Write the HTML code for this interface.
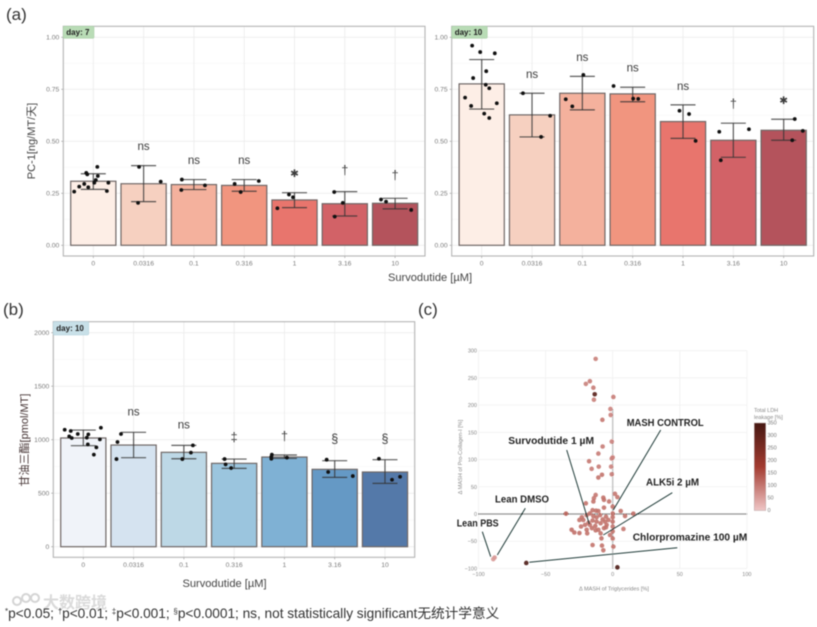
<!DOCTYPE html>
<html lang="en">
<head>
<meta charset="utf-8">
<title>Survodutide figure</title>
<style>
html,body{margin:0;padding:0;background:#fff;}
#wrap{position:relative;width:817px;height:627px;overflow:hidden;filter:blur(0.5px);}
svg{position:absolute;left:0;top:0;}
text{font-family:"Liberation Sans","Noto Sans CJK SC",sans-serif;}
#footnote{position:absolute;left:5px;top:605px;font:13.7px/18px "Liberation Sans","Noto Sans CJK SC",sans-serif;color:#333;white-space:nowrap;letter-spacing:-0.03px;}
#footnote span{font-size:8px;vertical-align:4px;line-height:0;}
#watermark{position:absolute;left:43px;top:592px;font:bold 16px/18px "Noto Sans CJK SC",sans-serif;color:#dadada;white-space:nowrap;}
</style>
</head>
<body>
<div id="wrap">
<svg id="fig" width="817" height="627" viewBox="0 0 817 627" xmlns="http://www.w3.org/2000/svg">
  <text x="6" y="20" font-size="17" fill="#333">(a)</text>
  <text x="3" y="315" font-size="17" fill="#333">(b)</text>
  <text x="418" y="315" font-size="17" fill="#333">(c)</text>
  <g id="panelA7"></g>
  <g id="panelA10"></g>
  <g id="panelB"></g>
  <g id="panelC"></g>
  <g>
    <text x="614" y="590.5" font-size="5.6" fill="#888" text-anchor="middle">Δ MASH of Triglycerides [%]</text>
    <text x="462" y="457" font-size="5.6" fill="#888" text-anchor="middle" transform="rotate(-90 462 457)">Δ MASH of Pro-Collagen-I [%]</text>
    <text x="754" y="412" font-size="5.5" fill="#888">Total LDH</text>
    <text x="754" y="419" font-size="5.5" fill="#888">leakage [%]</text>
    <line x1="566.7" y1="450" x2="589.3" y2="524" stroke="#1f3b38" stroke-width="1"/>
    <line x1="660.7" y1="430" x2="613.3" y2="510" stroke="#1f3b38" stroke-width="1"/>
    <line x1="672.3" y1="492.7" x2="603.3" y2="535" stroke="#1f3b38" stroke-width="1"/>
    <line x1="525.3" y1="508.3" x2="497.3" y2="555" stroke="#1f3b38" stroke-width="1"/>
    <line x1="482.3" y1="531.7" x2="490.7" y2="556.7" stroke="#1f3b38" stroke-width="1"/>
    <line x1="677.3" y1="547.7" x2="529.3" y2="562.3" stroke="#1f3b38" stroke-width="1"/>
    <text x="626.7" y="426" font-size="10.5" font-weight="bold" fill="#222" textLength="77" lengthAdjust="spacingAndGlyphs">MASH CONTROL</text>
    <text x="508.3" y="444" font-size="10.5" font-weight="bold" fill="#222" textLength="85.7" lengthAdjust="spacingAndGlyphs">Survodutide 1 µM</text>
    <text x="646" y="485.7" font-size="10.5" font-weight="bold" fill="#222" textLength="53" lengthAdjust="spacingAndGlyphs">ALK5i 2 µM</text>
    <text x="495" y="502.7" font-size="10.5" font-weight="bold" fill="#222" textLength="54" lengthAdjust="spacingAndGlyphs">Lean DMSO</text>
    <text x="456.7" y="526.7" font-size="10.5" font-weight="bold" fill="#222" textLength="42" lengthAdjust="spacingAndGlyphs">Lean PBS</text>
    <text x="632.7" y="540.7" font-size="10.5" font-weight="bold" fill="#222" textLength="114.6" lengthAdjust="spacingAndGlyphs">Chlorpromazine 100 µM</text>
  </g>
  <text x="31" y="141" font-size="11" fill="#444" text-anchor="middle" transform="rotate(-90 31 141)" dy="4">PC-1[ng/MT/天]</text>
  <text x="430" y="281" font-size="11.1" fill="#444" text-anchor="middle">Survodutide [µM]</text>
  <text x="24" y="440" font-size="11" fill="#433" text-anchor="middle" transform="rotate(-90 24 440)" dy="4">甘油三酯[pmol/MT]</text>
  <text x="224.5" y="587" font-size="11.1" fill="#444" text-anchor="middle">Survodutide [µM]</text>
  <g fill="none" stroke="#d4d4d4" stroke-width="2">
    <circle cx="17" cy="601" r="4"/>
    <circle cx="26" cy="598" r="4"/>
    <circle cx="35" cy="598" r="4"/>
  </g>
</svg>
<div id="watermark">大数跨境</div>
<div id="footnote"><span>*</span>p&lt;0.05; <span>†</span>p&lt;0.01; <span>‡</span>p&lt;0.001; <span>§</span>p&lt;0.0001; ns, not statistically significant无统计学意义</div>
</div>
<script>
// ---------- shared categories ----------
const doses = ['0','0.0316','0.1','0.316','1','3.16','10'];

// ---------- day 7 (a, left) ----------
const day7Means = [0.308,0.296,0.292,0.288,0.218,0.200,0.202];
const day7ErrHigh = [0.344,0.383,0.316,0.316,0.253,0.258,0.226];
const day7ErrLow = [0.269,0.210,0.268,0.260,0.181,0.141,0.175];
const day7Jitter = [
  [0.08,-0.14,-0.12,0.09,0.05,0.02,-0.18,-0.28,-0.10,0.30,0.27,-0.38],
  [-0.09,0.34,-0.11],[-0.24,0.22,-0.25],[-0.19,0.29,-0.07],
  [-0.11,-0.03,-0.34],[-0.21,-0.04,-0.20],[-0.28,-0.18,0.32]];
const day7Points = [
  [0.377,0.348,0.341,0.333,0.314,0.301,0.295,0.282,0.279,0.301,0.261,0.258],
  [0.377,0.306,0.204],[0.316,0.288,0.266],[0.295,0.309,0.256],
  [0.244,0.231,0.178],[0.256,0.204,0.138],[0.220,0.210,0.170]];
const day7Sig = ['','ns','ns','ns','✱','†','†'];
const day7SigAt = [0,0.478,0.410,0.410,0.346,0.360,0.335];

// ---------- day 10 (a, right) ----------
const day10Means = [0.776,0.627,0.731,0.728,0.595,0.505,0.553];
const day10ErrHigh = [0.893,0.731,0.812,0.760,0.675,0.587,0.606];
const day10ErrLow = [0.655,0.521,0.651,0.690,0.514,0.423,0.505];
const day10Jitter = [
  [-0.19,-0.03,0.26,0.09,-0.17,0.08,0.15,-0.33,-0.21,0.30,0.05,0.15],
  [-0.18,0.36,0.18],[0.02,-0.33,-0.20],[-0.38,0.01,0.11],
  [-0.07,0.12,0.25],[-0.28,0.31,-0.25],[0.22,0.38,0.17]];
const day10Points = [
  [0.960,0.929,0.923,0.837,0.804,0.772,0.755,0.710,0.670,0.683,0.633,0.612],
  [0.731,0.623,0.521],[0.819,0.702,0.668],[0.766,0.705,0.704],
  [0.647,0.631,0.502],[0.546,0.558,0.409],[0.607,0.550,0.505]];
const day10Sig = ['','ns','ns','ns','ns','†','✱'];
const day10SigAt = [0,0.824,0.905,0.854,0.766,0.680,0.697];

// ---------- triglycerides (b) ----------
const trigMeans = [1016,950,882,779,838,723,698];
const trigErrHigh = [1090,1069,947,819,857,804,813];
const trigErrLow = [944,832,822,732,825,648,592];
const trigJitter = [
  [-0.37,-0.25,-0.11,0.10,0.35,-0.28,-0.23,0.07,0.33,0.09,0.26,0.21],
  [-0.25,-0.32,-0.34],[0.18,0.14,-0.03],[-0.19,-0.17,-0.06],
  [-0.25,-0.26,-0.26,0.05],[-0.16,-0.13,0.36],[-0.12,0.14,0.30]];
const trigPoints = [
  [1093,1081,1053,1050,1112,1031,1016,1019,1003,956,928,860],
  [1053,978,819],[947,879,819],[819,769,735],
  [860,841,822,832],[813,698,660],[822,626,654]];
const trigSig = ['','ns','ns','‡','†','§','§'];
const trigSigAt = [0,1262,1143,1022,1031,1006,1006];

// ---------- tick labels ----------
const fractionTicks = [0,0.25,0.5,0.75,1];
const fractionLabels = ['0.00','0.25','0.50','0.75','1.00'];
const trigTicks = [0,500,1000,1500,2000];
const trigLabels = ['0','500','1000','1500','2000'];

// ---------- scatter (c) ----------
const scatterX = [-12.7,-17,-20,-14.4,-13.4,-14,0.5,-1.7,-1.5,-7.7,-0.7,-7.5,-10.7,0,-0.7,-17.6,-10.4,-1.2,-15.7,-0.7,-8,-10.7,
 -12.7,-14,-7,-6.5,-14.4,-20,-2.7,1.7,3.5,0,-6.5,6,-15,-12.4,-10.7,-34.8,9.2,15.4,
 -23,-24.8,-21.9,-19.4,-17,-14.4,-12,-9.4,-7.5,-5,-3.2,0,0,0,0,-18,-15,-12,-9,-5.7,-4.5,-20.6,-23.6,-19.4,-19,-15.5,-13,-10.7,-9,-6.5,-30.6,-28.6,-24.8,8,-5,-2,-8.4,0.5,-15,-8,-7,-17,-12.7,0,0,
 -88,-89,-64.4,3.5];
const scatterY = [285,244,239,232,220,210,215,193,182,173,133,124,111,104,102,97,87,87,83,73,72,67,
 35,29,30,26,23,19.6,23,37,31,13.5,11.6,5.5,7,6,5.5,0.6,-3.7,0.6,
 -6,-11,-11,-2,1,-4,-6,-2,-10,-5,-11,1,-6,-14,-23,-16,-12,-14,-17,-14,-20,-20,-23,-29,-35.5,-26,-22,-29,-35.5,-26,-29,-34,-35,-27.5,-24.5,-38.6,-44.7,-60,-57,-58,-66.7,-20,-30,-32,-45,
 -80,-83,-90,-98];
const scatterLdh = [90,95,90,95,320,90,95,85,85,100,85,95,95,85,85,100,95,85,95,95,105,105,
 100,100,105,105,105,105,105,100,100,105,105,105,105,105,105,130,105,110,
 105,105,105,105,105,105,105,105,105,105,105,105,105,105,100,105,105,105,105,105,105,105,105,105,105,105,105,105,105,105,110,110,110,100,105,100,110,105,105,105,105,105,105,105,105,
 60,55,340,340];
const xTicksC = [-100,-50,0,50,100];
const xTickLabelsC = ['−100','−50','0','50','100'];
const yTicksC = [-100,-50,0,50,100,150,200,250,300];
const yTickLabelsC = ['−100','−50','0','50','100','150','200','250','300'];
const ldhTicks = [0,50,100,150,200,250,300,350];
const ldhTickLabels = ['0','50','100','150','200','250','300','350'];

// ---------- styling ----------
const redFills = ['#fdeee6','#f6d0c0','#f4b19d','#f1957f','#e8756d','#d26267','#b4535c'];
const blueFills = ['#f0f3f9','#d5e3f0','#bdd8e6','#9bc5de','#7fb1d4','#6599c5','#5479a9'];
const NS = 'http://www.w3.org/2000/svg';

function make(tag, attrs, parent) {
  const el = document.createElementNS(NS, tag);
  for (const k in attrs) el.setAttribute(k, attrs[k]);
  parent.appendChild(el);
  return el;
}

function drawBarPanel(cfg) {
  const root = document.getElementById(cfg.id);
  const yPx = v => cfg.y0 + (cfg.yTop - cfg.y0) * v / cfg.yMax;
  const xPx = c => cfg.x0 + cfg.step * c;

  // background grid
  const minorCount = cfg.ticks.length - 1;
  for (let i = 0; i < minorCount; i++) {
    const mid = (cfg.ticks[i] + cfg.ticks[i + 1]) / 2;
    const minor = make('line', {x1: cfg.left, x2: cfg.right, y1: yPx(mid), y2: yPx(mid), stroke: '#f5f5f5', 'stroke-width': 0.7}, root);
    
    
  }
  cfg.ticks.forEach((t, i) => {
    const grid = make('line', {x1: cfg.left, x2: cfg.right, y1: yPx(t), y2: yPx(t), stroke: '#eeeeee', 'stroke-width': 1}, root);
    
    
    const tick = make('line', {x1: cfg.left - 2, x2: cfg.left, y1: yPx(t), y2: yPx(t), stroke: '#999', 'stroke-width': 0.7}, root);
    
    
    const lab = make('text', {x: cfg.left - 4, y: yPx(t) + 2.4, 'font-size': 6.8, fill: '#7c7c7c', 'text-anchor': 'end'}, root);
    
    
    lab.textContent = cfg.tickLabels[i];
  });
  doses.forEach((d, i) => {
    const grid = make('line', {x1: xPx(i), x2: xPx(i), y1: cfg.top, y2: cfg.bottom, stroke: '#eeeeee', 'stroke-width': 1}, root);
    
    
    const tick = make('line', {x1: xPx(i), x2: xPx(i), y1: cfg.bottom, y2: cfg.bottom + 2, stroke: '#999', 'stroke-width': 0.7}, root);
    
    
    const lab = make('text', {x: xPx(i), y: cfg.bottom + 9.5, 'font-size': 6.8, fill: '#7c7c7c', 'text-anchor': 'middle'}, root);
    
    
    lab.textContent = d;
  });

  // bars
  cfg.means.forEach((m, i) => {
    const bar = make('rect', {x: xPx(i) - 22.6, y: yPx(m), width: 45.2, height: cfg.y0 - yPx(m), fill: cfg.fills[i], stroke: '#6f6766', 'stroke-width': 1.2}, root);
    
    
  });

  // error bars
  cfg.means.forEach((m, i) => {
    const stem = make('line', {x1: xPx(i), x2: xPx(i), y1: yPx(cfg.high[i]), y2: yPx(cfg.low[i]), stroke: '#333', 'stroke-opacity': 0.8, 'stroke-width': 1.2}, root);
    
    
    const capHigh = make('line', {x1: xPx(i) - 12.5, x2: xPx(i) + 12.5, y1: yPx(cfg.high[i]), y2: yPx(cfg.high[i]), stroke: '#333', 'stroke-opacity': 0.8, 'stroke-width': 1.2}, root);
    
    
    const capLow = make('line', {x1: xPx(i) - 12.5, x2: xPx(i) + 12.5, y1: yPx(cfg.low[i]), y2: yPx(cfg.low[i]), stroke: '#333', 'stroke-opacity': 0.8, 'stroke-width': 1.2}, root);
    
    
  });

  // points
  cfg.points.forEach((group, i) => {
    group.forEach((v, j) => {
      const dot = make('circle', {cx: xPx(i + cfg.jitter[i][j]), cy: yPx(v), r: 1.9, fill: '#111'}, root);
      
      
    });
  });

  // significance labels
  cfg.sig.forEach((s, i) => {
    if (!s) return;
    const star = s === '✱';
    const word = s === 'ns';
    const lab = make('text', {x: xPx(i), y: yPx(cfg.sigAt[i]) + (star ? 3.6 : 4), 'font-size': star ? 10.5 : (word ? 11.5 : 12.5), fill: '#3c3c3c', 'text-anchor': 'middle'}, root);
    if (star) lab.setAttribute('style', 'font-family:"DejaVu Sans",sans-serif');
    
    
    lab.textContent = s;
  });

  // frame and facet tag
  const frame = make('rect', {x: cfg.left, y: cfg.top, width: cfg.right - cfg.left, height: cfg.bottom - cfg.top, fill: 'none', stroke: '#b4b4b4', 'stroke-width': 1.1}, root);
  
  
  const tag = make('rect', {x: cfg.left, y: cfg.top, width: cfg.tagW, height: cfg.tagH, rx: 1, fill: cfg.tagFill, stroke: cfg.tagStroke, 'stroke-width': 0.5}, root);
  
  
  const tagText = make('text', {x: cfg.left + 3, y: cfg.top + cfg.tagH / 2 + 2.8, 'font-size': 8, 'font-weight': 'bold', fill: '#222'}, root);
  
  
  tagText.textContent = cfg.tagText;
}

drawBarPanel({id:'panelA7',left:63.3,right:425,top:26.3,bottom:256,y0:245.3,yTop:37.3,yMax:1,x0:93.3,step:50.3,
  ticks:fractionTicks,tickLabels:fractionLabels,means:day7Means,high:day7ErrHigh,low:day7ErrLow,points:day7Points,jitter:day7Jitter,
  sig:day7Sig,sigAt:day7SigAt,fills:redFills,tagW:30.7,tagH:12,tagFill:'#b9dcb6',tagStroke:'#a3cba0',tagText:'day: 7'});
drawBarPanel({id:'panelA10',left:451.7,right:813.7,top:26.3,bottom:256,y0:245.3,yTop:37.3,yMax:1,x0:481.7,step:50.33,
  ticks:fractionTicks,tickLabels:fractionLabels,means:day10Means,high:day10ErrHigh,low:day10ErrLow,points:day10Points,jitter:day10Jitter,
  sig:day10Sig,sigAt:day10SigAt,fills:redFills,tagW:35.6,tagH:12,tagFill:'#b9dcb6',tagStroke:'#a3cba0',tagText:'day: 10'});
drawBarPanel({id:'panelB',left:53.3,right:414.7,top:321.7,bottom:557.3,y0:546.7,yTop:332.7,yMax:2000,x0:83.3,step:50.28,
  ticks:trigTicks,tickLabels:trigLabels,means:trigMeans,high:trigErrHigh,low:trigErrLow,points:trigPoints,jitter:trigJitter,
  sig:trigSig,sigAt:trigSigAt,fills:blueFills,tagW:35.4,tagH:13.3,tagFill:'#c8e0e8',tagStroke:'#aecfda',tagText:'day: 10'});

// ---------- scatter panel ----------
(function () {
  const root = document.getElementById('panelC');
  const xS = v => 612.7 + v * 1.342;
  const yS = v => 514 - v * 0.5443;
  const lerp = (a, b, t) => Math.round(a + (b - a) * t);
  const ldhColor = v => {
    const stops = [[0, [240, 198, 198]], [175, [163, 59, 48]], [350, [70, 24, 18]]];
    const hi = v <= 175 ? 1 : 2;
    const a = stops[hi - 1], b = stops[hi];
    const t = Math.max(0, Math.min(1, (v - a[0]) / (b[0] - a[0])));
    return 'rgb(' + lerp(a[1][0], b[1][0], t) + ',' + lerp(a[1][1], b[1][1], t) + ',' + lerp(a[1][2], b[1][2], t) + ')';
  };

  xTicksC.forEach((t, i) => {
    const grid = make('line', {x1: xS(t), x2: xS(t), y1: yS(300), y2: yS(-100), stroke: '#f0f0f0', 'stroke-width': 0.8}, root);
    
    
    const lab = make('text', {x: xS(t), y: 576, 'font-size': 5.5, fill: '#888', 'text-anchor': 'middle'}, root);
    
    
    lab.textContent = xTickLabelsC[i];
  });
  yTicksC.forEach((t, i) => {
    const grid = make('line', {x1: xS(-100), x2: xS(100), y1: yS(t), y2: yS(t), stroke: '#f0f0f0', 'stroke-width': 0.8}, root);
    
    
    const lab = make('text', {x: 477, y: yS(t) + 2, 'font-size': 5.5, fill: '#888', 'text-anchor': 'end'}, root);
    
    
    lab.textContent = yTickLabelsC[i];
  });

  const vRef = make('line', {x1: xS(0), x2: xS(0), y1: yS(192), y2: yS(-100), stroke: '#999', 'stroke-width': 1.5, 'stroke-dasharray': '1 1'}, root);
  
  
  const hRef = make('line', {x1: xS(-100), x2: xS(100), y1: yS(0), y2: yS(0), stroke: '#333', 'stroke-width': 1.3, 'stroke-dasharray': '1 1'}, root);
  
  

  scatterX.forEach((x, i) => {
    const dot = make('circle', {cx: xS(x), cy: yS(scatterY[i]), r: 2.3, fill: ldhColor(scatterLdh[i]), 'fill-opacity': 0.9}, root);
    
    
  });

  // colour bar
  const defs = make('defs', {}, root);
  const grad = make('linearGradient', {id: 'ldhGrad', x1: 0, x2: 0, y1: 1, y2: 0}, defs);
  make('stop', {offset: '0', 'stop-color': ldhColor(0)}, grad);
  make('stop', {offset: '0.5', 'stop-color': ldhColor(175)}, grad);
  make('stop', {offset: '1', 'stop-color': ldhColor(350)}, grad);
  const cbTop = 423, cbBottom = 510.5;
  const cb = make('rect', {x: 754.3, y: cbTop, width: 11.4, height: cbBottom - cbTop, fill: 'url(#ldhGrad)', stroke: '#b9a5a5', 'stroke-width': 0.5}, root);
  
  
  ldhTicks.forEach((t, i) => {
    const lab = make('text', {x: 767.5, y: cbBottom - (cbBottom - cbTop) * t / 350 + 1.5, 'font-size': 5.5, fill: '#777'}, root);
    
    
    lab.textContent = ldhTickLabels[i];
  });
})();
</script>
</body>
</html>
